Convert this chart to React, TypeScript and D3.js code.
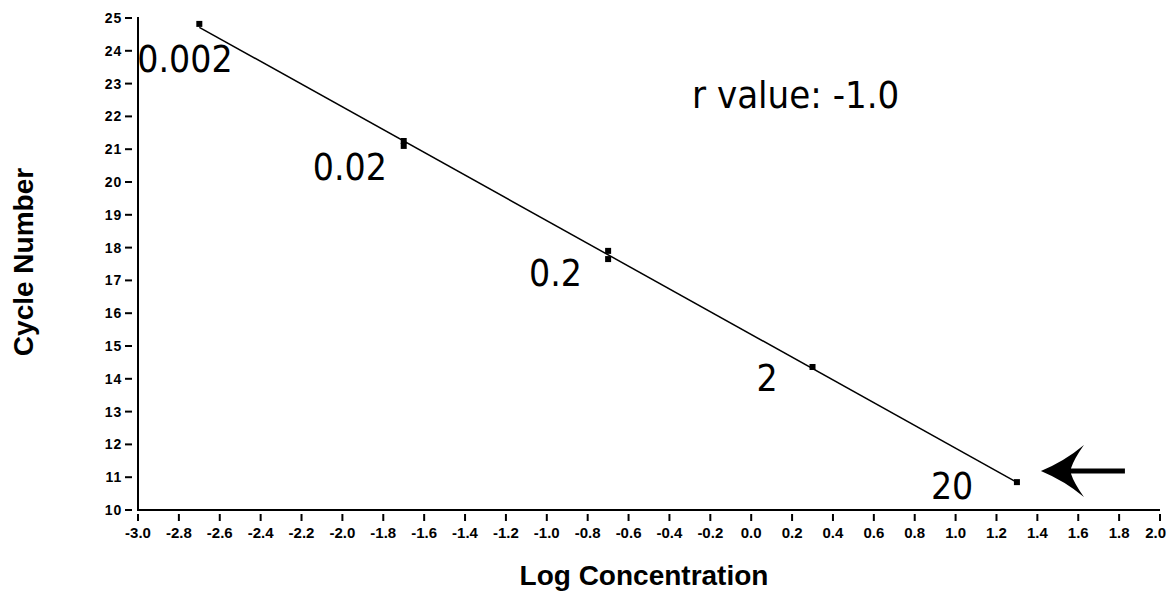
import React from 'react';
import * as d3 from 'd3';

// Standard curve: log concentration vs threshold cycle
const logConc = [-2.7, -1.7, -1.7, -0.7, -0.7, 0.3, 1.3];
const cycles = [24.82, 21.25, 21.1, 17.9, 17.65, 14.36, 10.85];

// dilution labels, one per concentration step
const labelLog = [-2.7, -1.7, -0.7, 0.3, 1.3];
const labelCycle = [24.82, 21.18, 17.78, 14.36, 10.85];
const labelText = ['0.002', '0.02', '0.2', '2', '20'];

const xTicks = d3.range(-3.0, 2.0001, 0.2);
const yTicks = d3.range(10, 26, 1);

const W = 1167;
const H = 592;

// pixel offsets of each dilution label from its point (left edge, baseline)
const labelOffsets: [number, number][] = [
  [-62, 48],
  [-91, 37],
  [-79, 31],
  [-56, 24],
  [-86, 17],
];

const bigFont = "'DejaVu Sans Condensed', 'DejaVu Sans', sans-serif";
const axisFont = "'Liberation Sans', Arial, sans-serif";

export default function App() {
  const x = d3.scaleLinear().domain([-3, 2]).range([138, 1160]);
  const y = d3.scaleLinear().domain([10, 25]).range([510, 18]);

  // least squares fit
  const mx = d3.mean(logConc)!;
  const my = d3.mean(cycles)!;
  const sxy = d3.sum(logConc.map((v, i) => (v - mx) * (cycles[i] - my)));
  const sxx = d3.sum(logConc.map(v => (v - mx) ** 2));
  const slope = sxy / sxx;
  const icpt = my - slope * mx;
  const x0 = d3.min(logConc)!;
  const x1 = d3.max(logConc)!;
  const fit = d3.line<number>().x(d => x(d)).y(d => y(icpt + slope * d))([x0, x1]);

  // arrow pointing at the highest concentration
  const tx = x(1.3) + 24;
  const ty = y(10.85) - 11;
  const arrow = `M${tx},${ty} Q${tx + 24},${ty - 10} ${tx + 43},${ty - 26} Q${tx + 33},${ty - 12} ${tx + 30},${ty - 2.5}
    L${tx + 84},${ty - 2.5} L${tx + 84},${ty + 2.5} L${tx + 30},${ty + 2.5}
    Q${tx + 33},${ty + 12} ${tx + 43},${ty + 26} Q${tx + 24},${ty + 10} ${tx},${ty} Z`;

  return (
    <svg width={W} height={H} style={{ position: 'absolute', left: 0, top: 0, background: '#fff' }}>
      {/* axes */}
      <line x1={x(-3)} x2={x(-3)} y1={y(25) - 1} y2={y(10) + 1} stroke="#000" strokeWidth={2} />
      <line x1={x(-3)} x2={x(2)} y1={y(10)} y2={y(10)} stroke="#000" strokeWidth={2} />

      {yTicks.map(t => (
        <g key={'y' + t}>
          <line x1={125} x2={132} y1={y(t)} y2={y(t)} stroke="#000" strokeWidth={2} />
          <text x={122} y={y(t)} dy="0.35em" textAnchor="end" fontFamily={axisFont}
            fontSize={14} fontWeight="bold" letterSpacing={0.8}>{t}</text>
        </g>
      ))}

      {xTicks.map((t, i) => {
        const last = i === xTicks.length - 1;
        return (
          <g key={'x' + t.toFixed(1)}>
            <line x1={x(t)} x2={x(t)} y1={514} y2={521} stroke="#000" strokeWidth={2} />
            <text x={last ? W - 1 : x(t)} y={538} textAnchor={last ? 'end' : 'middle'} fontFamily={axisFont}
              fontSize={15} fontWeight="bold">{Math.abs(t) < 1e-9 ? '0.0' : t.toFixed(1)}</text>
          </g>
        );
      })}

      {/* regression line */}
      <path d={fit ?? ''} fill="none" stroke="#000" strokeWidth={1.5} />

      {/* points */}
      {logConc.map((v, i) => (
        <rect key={'p' + i} x={x(v) - 3} y={y(cycles[i]) - 3} width={6} height={6} fill="#000" />
      ))}

      {/* dilution labels */}
      {labelText.map((s, i) => (
        <text key={s} x={x(labelLog[i]) + labelOffsets[i][0]} y={y(labelCycle[i]) + labelOffsets[i][1]}
          fontFamily={bigFont} fontSize={37}>{s}</text>
      ))}

      <text x={692} y={108} fontFamily={bigFont} fontSize={38}>r value: -1.0</text>

      <path d={arrow} fill="#000" />

      {/* axis titles */}
      <text transform="translate(33,262) rotate(-90)" textAnchor="middle" fontFamily={axisFont}
        fontSize={28} fontWeight="bold">Cycle Number</text>
      <text x={644} y={585} textAnchor="middle" fontFamily={axisFont} fontSize={28} fontWeight="bold">
        Log Concentration
      </text>
    </svg>
  );
}
